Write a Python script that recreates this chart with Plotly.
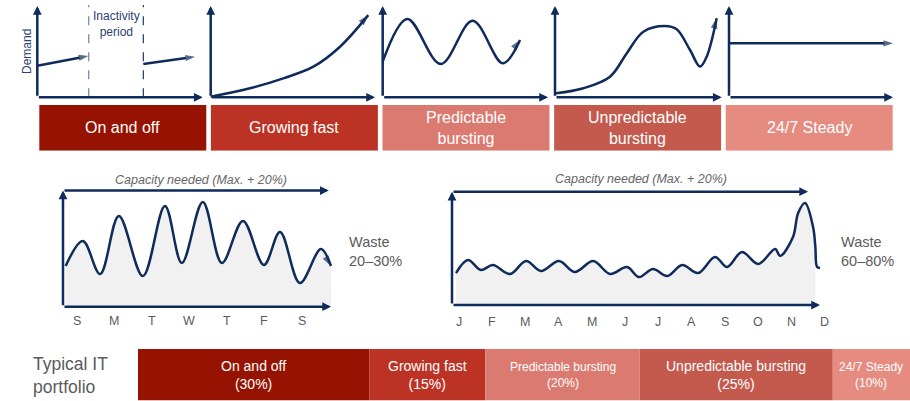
import plotly.graph_objects as go

W, H = 910, 401
NAVY = "#0f2b5b"
TEXT_GRAY = "#5b5b5b"
AREA_GRAY = "#f1f1f1"
FONT = "Liberation Sans, Arial, Helvetica, sans-serif"

# ---------------- data ----------------
patterns = ["On and off", "Growing fast", "Predictable bursting",
            "Unpredictable bursting", "24/7 Steady"]
box_labels = ["On and off", "Growing fast", "Predictable<br>bursting",
              "Unpredictable<br>bursting", "24/7 Steady"]
pattern_colors = ["#951300", "#bc3325", "#db7a70", "#c45a4e", "#e68b80"]
portfolio_share = [30, 15, 20, 25, 10]

# demand sketches (each panel measured in 0-100 units on both axes)
onoff_before_x = [0, 30.8]
onoff_before_y = [34.6, 45.2]
onoff_after_x = [64.1, 95.3]
onoff_after_y = [36.5, 44.5]
inactivity_bounds = [31.1, 64.1]

growth_x = [0, 23.9, 44.2, 62.5, 78.7, 95.9]
growth_y = [0.7, 9.9, 20.8, 33.5, 55.4, 90.0]

predictable_x = [0, 14.9, 35.1, 54.4, 72.6, 83.1]
predictable_y = [39, 85.8, 36.5, 83.9, 37.2, 62.8]

unpredictable_x = [0.6, 17, 33, 43, 53, 66, 73, 81, 87, 91, 97]
unpredictable_y = [4.4, 9.9, 22.6, 48.1, 71.8, 78.1, 74.5, 51.8, 33.6, 44.5, 86.5]

steady_x = [0, 100]
steady_y = [59.1, 59.1]

# weekly load (x in days, y in % of capacity needed)
week_days = ["S", "M", "T", "W", "T", "F", "S"]
week_x = [0.07, 0.53, 0.99, 1.49, 2.13, 2.72, 3.17, 3.73, 4.24, 4.80, 5.36, 5.79, 6.32, 6.88, 7.15]
week_y = [35, 56.5, 28.1, 78.1, 26.4, 86.7, 37.6, 90.1, 37.6, 73.8, 35.9, 64.3, 20.4, 49.7, 35]

# yearly load (x in months, y in % of capacity needed)
months = ["J", "F", "M", "A", "M", "J", "J", "A", "S", "O", "N", "D"]
year_x = [0.12, 0.48, 0.87, 1.23, 1.75, 2.23, 2.68, 3.22, 3.70, 4.25, 4.76, 5.27, 5.63,
          6.05, 6.48, 6.93, 7.41, 7.92, 8.28, 8.73, 9.22, 9.73, 9.88, 10.27, 10.42,
          10.63, 10.87, 10.94, 10.99, 11.08]
year_y = [28.2, 39.7, 30.9, 35.3, 27.4, 38.8, 30.0, 38.8, 29.1, 38.8, 27.4, 33.5, 24.7,
          31.8, 25.6, 35.3, 28.2, 42.4, 33.5, 46.8, 36.2, 49.4, 43.2, 60.3, 81.0,
          90.0, 69.0, 51.5, 33.8, 32.6]
year_fill_end = 10.94  # shading stops before the final drop

fig = go.Figure()
_axis_n = [0]
annotations = []


def add_axes(px_x0, px_x1, px_yb, px_yt, xr, yr, pad=8):
    """Create an x/y axis pair whose data ranges map onto a pixel box."""
    _axis_n[0] += 1
    n = _axis_n[0]
    ux = (xr[1] - xr[0]) / (px_x1 - px_x0)
    uy = (yr[1] - yr[0]) / (px_yb - px_yt)
    x0p, x1p = max(px_x0 - pad, 0), min(px_x1 + pad, W)
    ytp, ybp = max(px_yt - pad, 0), min(px_yb + pad, H)
    xrange = [xr[0] - (px_x0 - x0p) * ux, xr[1] + (x1p - px_x1) * ux]
    yrange = [yr[0] - (ybp - px_yb) * uy, yr[1] + (px_yt - ytp) * uy]
    suffix = "" if n == 1 else str(n)
    fig.update_layout(**{
        f"xaxis{suffix}": dict(domain=[x0p / W, x1p / W], range=xrange, visible=False,
                               anchor=f"y{suffix}", fixedrange=True),
        f"yaxis{suffix}": dict(domain=[1 - ybp / H, 1 - ytp / H], range=yrange, visible=False,
                               anchor=f"x{suffix}", fixedrange=True),
    })
    return f"x{suffix}", f"y{suffix}"


def curve(xs, ys, ax, ay, width=2.5, head=11, arrow=True, color=NAVY,
          shape="linear", dash="solid"):
    sizes = [0] * (len(xs) - 1) + [head if arrow else 0]
    fig.add_trace(go.Scatter(
        x=xs, y=ys, xaxis=ax, yaxis=ay, mode="lines+markers",
        line=dict(color=color, width=width, shape=shape, dash=dash, smoothing=1.0),
        marker=dict(symbol="arrow", size=sizes, angleref="previous", color=color,
                    line=dict(width=0)),
        cliponaxis=False, hoverinfo="skip", showlegend=False))


def shade(xs, ys, ax, ay):
    fig.add_trace(go.Scatter(
        x=xs, y=ys, xaxis=ax, yaxis=ay, mode="lines", fill="tozeroy",
        line=dict(width=0, shape="spline", smoothing=1.0), fillcolor=AREA_GRAY,
        hoverinfo="skip", showlegend=False))


def axis_arrow(x0, y0, x1, y1, ax, ay, width=2.5):
    annotations.append(dict(x=x1, y=y1, ax=x0, ay=y0, xref=ax, yref=ay, axref=ax, ayref=ay,
                            text="", showarrow=True, arrowhead=2, arrowsize=0.7,
                            arrowwidth=width, arrowcolor=NAVY, standoff=0, startstandoff=0))


def paper_text(xp, yp, text, size, color=TEXT_GRAY, xanchor="center", align="center", **kw):
    annotations.append(dict(x=xp / W, y=1 - yp / H, xref="paper", yref="paper", text=text,
                            showarrow=False, xanchor=xanchor, yanchor="middle", align=align,
                            font=dict(size=size, color=color, family=FONT), **kw))


# ---------------- top sketches ----------------
panels = [(37.3, 202.7), (210.7, 375.0), (382.7, 548.0), (555.0, 721.7), (729.0, 893.0)]
panel_axes = [add_axes(l, r, 97.3, 6.0, [0, 100], [0, 100]) for l, r in panels]

# on and off
ax, ay = panel_axes[0]
for i, xb in enumerate(inactivity_bounds):
    curve([xb, xb], [0, 101], ax, ay, width=1.2, arrow=False,
          color="#6d7fa3" if i == 0 else "#1d3766", dash="dash")
curve(onoff_before_x, onoff_before_y, ax, ay, head=10)
curve(onoff_after_x, onoff_after_y, ax, ay, head=10)
annotations.append(dict(x=sum(inactivity_bounds) / 2, y=80.5, xref=ax, yref=ay,
                        text="Inactivity<br>period", showarrow=False,
                        xanchor="center", yanchor="middle",
                        font=dict(size=12, color="#2a4272", family=FONT)))
paper_text(27.5, 51.5, "Demand", 12, color="#2a4272", textangle=-90)

# remaining sketches
curve(growth_x, growth_y, *panel_axes[1], shape="spline")
curve(predictable_x, predictable_y, *panel_axes[2], shape="spline")
curve(unpredictable_x, unpredictable_y, *panel_axes[3], shape="spline")
curve(steady_x, steady_y, *panel_axes[4], head=10)

for ax, ay in panel_axes:
    axis_arrow(0, 0, 0, 100, ax, ay)
    axis_arrow(0, 0, 100, 0, ax, ay)

# pattern boxes
bx, by = add_axes(37, 895, 150.7, 105, [-0.5, 4.5], [0, 1], pad=0)
fig.add_trace(go.Bar(x=list(range(len(patterns))), y=[1] * len(patterns), width=0.973,
                     marker=dict(color=pattern_colors, line=dict(width=0)),
                     xaxis=bx, yaxis=by, hoverinfo="skip", showlegend=False))
for i, lab in enumerate(box_labels):
    annotations.append(dict(x=i, y=0.5, xref=bx, yref=by, text=lab, showarrow=False,
                            xanchor="center", yanchor="middle",
                            font=dict(size=16, color="white", family=FONT)))

# ---------------- weekly chart ----------------
wx, wy = add_axes(63, 331, 306.7, 190.5, [0, 7.15], [0, 100])
shade(week_x, week_y, wx, wy)
curve(week_x, week_y, wx, wy, shape="spline")
axis_arrow(0, 0, 0, 100, wx, wy)
axis_arrow(0, 0, 7.15, 0, wx, wy)
axis_arrow(0, 100, 7.09, 100, wx, wy)
for i, d in enumerate(week_days):
    annotations.append(dict(x=0.37 + i, y=1 - 321 / H, xref=wx, yref="paper", text=d,
                            showarrow=False, xanchor="center", yanchor="middle",
                            font=dict(size=12.5, color=TEXT_GRAY, family=FONT)))

# ---------------- yearly chart ----------------
yx, yy = add_axes(452, 820, 305, 191.7, [0, 11.08], [0, 100])
keep = [i for i, v in enumerate(year_x) if v <= year_fill_end]
shade([year_x[i] for i in keep], [year_y[i] for i in keep], yx, yy)
curve(year_x, year_y, yx, yy, shape="spline", arrow=False)
axis_arrow(0, 0, 0, 100, yx, yy)
axis_arrow(0, 0, 11.08, 0, yx, yy)
axis_arrow(0, 100, 10.72, 100, yx, yy)
for i, m in enumerate(months):
    annotations.append(dict(x=0.21 + i, y=1 - 321.5 / H, xref=yx, yref="paper", text=m,
                            showarrow=False, xanchor="center", yanchor="middle",
                            font=dict(size=12.5, color=TEXT_GRAY, family=FONT)))

# captions for the two load charts
for cx, cy in [(201, 180), (641, 179)]:
    paper_text(cx, cy, "<i>Capacity needed (Max. + 20%)</i>", 12.5, color="#666666")
for wxp, txt in [(347, "Waste<br>20–30%"), (839, "Waste<br>60–80%")]:
    paper_text(wxp, 251, txt, 14.5, xanchor="left", align="left")

# ---------------- portfolio bar ----------------
sx, sy = add_axes(138, 910, 400.5, 349, [0, 100], [-0.5, 0.5], pad=0)
base = 0
for name, share, col in zip(patterns, portfolio_share, pattern_colors):
    fig.add_trace(go.Bar(x=[share], y=[0], base=[base], width=1, orientation="h",
                         marker=dict(color=col, line=dict(width=0)),
                         xaxis=sx, yaxis=sy, hoverinfo="skip", showlegend=False))
    small = name in ("Predictable bursting", "24/7 Steady")
    annotations.append(dict(x=base + share / 2, y=0, xref=sx, yref=sy,
                            text=f"{name}<br>({share}%)", showarrow=False,
                            xanchor="center", yanchor="middle",
                            font=dict(size=12 if small else 14, color="white", family=FONT)))
    base += share

paper_text(31, 375, "Typical IT<br>portfolio", 17.5, xanchor="left", align="left")

fig.update_layout(
    width=W, height=H, margin=dict(l=0, r=0, t=0, b=0),
    paper_bgcolor="white", plot_bgcolor="white",
    barmode="overlay", showlegend=False, hovermode=False,
    annotations=annotations,
    font=dict(family=FONT),
)

fig.write_html("out.html", config={"displayModeBar": False})
